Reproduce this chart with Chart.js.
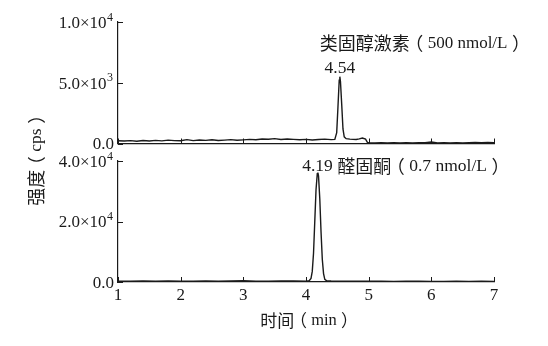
<!DOCTYPE html>
<html>
<head>
<meta charset="utf-8">
<script src="https://cdn.jsdelivr.net/npm/chart.js@4"></script>
<style>
html, body { margin: 0; padding: 0; background: #fff; }
#wrap { position: relative; width: 548px; height: 346px; }
#wrap canvas { position: absolute; left: 0; top: 0; }
</style>
</head>
<body>
<div id="wrap">
  <canvas id="chartTop" width="548" height="346"></canvas>
  <canvas id="chartBottom" width="548" height="346"></canvas>
</div>
<script>
const topTime = [1.0, 1.1, 1.2, 1.3, 1.4, 1.5, 1.6, 1.7, 1.8, 1.9, 2.0, 2.1, 2.2, 2.3, 2.4, 2.5, 2.6, 2.7, 2.8, 2.9,
  3.0, 3.1, 3.2, 3.3, 3.4, 3.5, 3.6, 3.7, 3.8, 3.9, 4.0, 4.1, 4.2, 4.3, 4.4,
  4.46, 4.49, 4.51, 4.53, 4.54, 4.55, 4.57, 4.59, 4.61, 4.64,
  4.7, 4.8, 4.85, 4.9, 4.95, 4.98,
  5.0, 5.1, 5.2, 5.3, 5.4, 5.5, 5.6, 5.7, 5.8, 5.9, 6.0, 6.1, 6.2, 6.3, 6.4, 6.5, 6.6, 6.7, 6.8, 6.9, 7.0];
const topIntensity = [230, 200, 240, 180, 250, 210, 260, 220, 280, 240, 230, 320, 240, 290, 260, 310, 250, 280, 320, 270,
  300, 340, 310, 370, 350, 400, 330, 370, 340, 310, 340, 290, 330, 360, 320,
  340, 900, 3000, 5200, 5500, 5100, 3200, 1200, 550, 400,
  360, 330, 380, 450, 360, 90,
  60, 40, 60, 50, 70, 40, 60, 50, 70, 60, 120, 50, 60, 40, 70, 50, 60, 80, 60, 90, 70];

const bottomTime = [1.0, 1.2, 1.4, 1.6, 1.8, 2.0, 2.2, 2.4, 2.6, 2.8, 3.0, 3.2, 3.4, 3.6, 3.8, 4.0,
  4.05, 4.08, 4.10, 4.12, 4.14, 4.16, 4.18, 4.19, 4.20, 4.22, 4.24, 4.26, 4.28, 4.30, 4.33,
  4.4, 4.6, 4.8,
  5.0, 5.2, 5.4, 5.6, 5.8, 6.0, 6.2, 6.4, 6.6, 6.8, 7.0];
const bottomIntensity = [300, 250, 350, 280, 320, 260, 300, 340, 290, 330, 450, 300, 280, 320, 350, 300,
  400, 1200, 3500, 9500, 20000, 30500, 35800, 36200, 35000, 27500, 16500, 7500, 2800, 900, 400,
  320, 280, 300,
  260, 240, 220, 250, 230, 210, 220, 240, 200, 230, 210];

const xTicks = [1, 2, 3, 4, 5, 6, 7];
const topTickValues = [0, 5000, 10000];
const topTickLabels = ['0.0', '5.0×10³', '1.0×10⁴'];
const bottomTickValues = [0, 20000, 40000];
const bottomTickLabels = ['0.0', '2.0×10⁴', '4.0×10⁴'];

const topTitle = '类固醇激素（500 nmol/L）';
const topPeakLabel = '4.54';
const bottomTitle = '4.19 醛固酮（0.7 nmol/L）';
const xTitle = '时间（min）';
const yTitle = '强度（cps）';

const serif = "'Liberation Serif', serif";
const cjk = "'Noto Sans CJK SC', sans-serif";
const negro = '#1a1a1a';
const sup = '⁰¹²³⁴⁵⁶⁷⁸⁹';

function esCJK(ch) {
  return ch.charCodeAt(0) >= 0x2E80;
}

// texto mezclado: chino con Noto, cifras y letras con serif
// los paréntesis de ancho completo se centran en su caja
function textoMixto(ctx, text, x, y, align, latin, han) {
  const piezas = [];
  for (const ch of text) {
    const f = esCJK(ch) ? han + 'px ' + cjk : latin + 'px ' + serif;
    const last = piezas[piezas.length - 1];
    const suelto = ch === '（' || ch === '）';
    if (last && last.f === f && !suelto && !last.suelto) last.t += ch;
    else piezas.push({ f: f, t: ch, suelto: suelto });
  }
  let total = 0;
  piezas.forEach(function(p) { ctx.font = p.f; p.w = ctx.measureText(p.t).width; total += p.w; });
  let cx = x;
  if (align === 'center') cx = x - total / 2;
  if (align === 'right') cx = x - total;
  ctx.textAlign = 'left';
  piezas.forEach(function(p) {
    let dx = 0;
    if (p.t === '（') dx = -0.25 * han;
    if (p.t === '）') dx = 0.25 * han;
    ctx.font = p.f;
    ctx.fillText(p.t, cx + dx, y);
    cx += p.w;
  });
}

// marcas de los ejes hacia dentro, etiquetas con exponente y textos sueltos
const marcasYTextos = {
  id: 'marcasYTextos',
  afterDraw(chart, args, opts) {
    const ctx = chart.ctx;
    const sx = chart.scales.x;
    const sy = chart.scales.y;
    const area = chart.chartArea;
    ctx.save();
    ctx.strokeStyle = negro;
    ctx.lineWidth = 1;
    ctx.beginPath();
    sx.ticks.forEach(function(t) {
      const px = Math.round(sx.getPixelForValue(t.value)) + 0.5;
      ctx.moveTo(px, area.bottom);
      ctx.lineTo(px, area.bottom - 5);
    });
    sy.ticks.forEach(function(t) {
      const py = Math.round(sy.getPixelForValue(t.value)) + 0.5;
      ctx.moveTo(area.left, py);
      ctx.lineTo(area.left + 5, py);
    });
    ctx.stroke();

    ctx.fillStyle = negro;
    // etiquetas del eje y
    const vals = opts.tickValues;
    const labs = opts.tickLabels;
    vals.forEach(function(v, i) {
      const py = sy.getPixelForValue(v);
      let base = labs[i];
      let expo = '';
      while (base.length && sup.indexOf(base[base.length - 1]) >= 0) {
        expo = String(sup.indexOf(base[base.length - 1])) + expo;
        base = base.slice(0, -1);
      }
      let right = area.left - 4;
      ctx.textAlign = 'right';
      if (expo) {
        right = area.left - 5;
        ctx.font = '12px ' + serif;
        ctx.textBaseline = 'alphabetic';
        ctx.fillText(expo, right, py - 1.5);
        right -= ctx.measureText(expo).width + 0.5;
      }
      ctx.font = '17px ' + serif;
      ctx.textBaseline = 'middle';
      ctx.fillText(base, right, py + 1.5);
    });

    ctx.textBaseline = 'middle';
    (opts.items || []).forEach(function(it) {
      let px, py;
      if (it.pixel) {
        px = it.pixel[0];
        py = it.pixel[1];
      } else {
        px = sx.getPixelForValue(it.at[0]);
        py = sy.getPixelForValue(it.at[1]);
      }
      ctx.save();
      ctx.translate(px, py);
      if (it.rotate) ctx.rotate(it.rotate);
      textoMixto(ctx, it.text, 0, 0, it.align || 'center', it.latin, it.han);
      ctx.restore();
    });
    ctx.restore();
  }
};

function puntos(ts, vs) {
  return ts.map(function(t, i) { return { x: t, y: vs[i] }; });
}

function crearPanel(id, ts, vs, yMax, tickValues, tickLabels, showX, pad, items) {
  return new Chart(document.getElementById(id), {
    type: 'line',
    data: {
      datasets: [{
        data: puntos(ts, vs),
        borderColor: negro,
        borderWidth: 1.4,
        pointRadius: 0,
        tension: 0,
        fill: false
      }]
    },
    options: {
      responsive: false,
      animation: false,
      events: [],
      layout: { padding: pad },
      plugins: {
        legend: { display: false },
        tooltip: { enabled: false },
        marcasYTextos: { items: items, tickValues: tickValues, tickLabels: tickLabels }
      },
      scales: {
        x: {
          type: 'linear',
          min: 1,
          max: 7,
          afterBuildTicks: function(scale) { scale.ticks = xTicks.map(function(v) { return { value: v }; }); },
          grid: { display: false, drawTicks: false },
          border: { display: true, color: negro, width: 1.2 },
          ticks: { display: showX, padding: 3, color: negro, font: { family: serif, size: 17 } },
          afterFit: function(scale) { scale.height = showX ? 64 : 0; }
        },
        y: {
          min: 0,
          max: yMax,
          afterBuildTicks: function(scale) { scale.ticks = tickValues.map(function(v) { return { value: v }; }); },
          grid: { display: false, drawTicks: false },
          border: { display: true, color: negro, width: 1.2 },
          ticks: { display: false },
          afterFit: function(scale) { scale.width = 118; }
        }
      }
    },
    plugins: [marcasYTextos]
  });
}

crearPanel('chartTop', topTime, topIntensity, 10000, topTickValues, topTickLabels, false,
  { top: 22, left: 0, right: 54, bottom: 202.5 },
  [
    { text: topTitle, at: [5.86, 8250], latin: 17, han: 18 },
    { text: topPeakLabel, at: [4.54, 6150], latin: 17.5, han: 18 }
  ]);

crearPanel('chartBottom', bottomTime, bottomIntensity, 40000, bottomTickValues, bottomTickLabels, true,
  { top: 161, left: 0, right: 54, bottom: 0 },
  [
    { text: bottomTitle, at: [3.94, 38200], latin: 17.5, han: 18, align: 'left' },
    { text: xTitle, pixel: [307, 321], latin: 16.5, han: 17 },
    { text: yTitle, pixel: [36, 158], latin: 17.5, han: 18, rotate: -Math.PI / 2 }
  ]);
</script>
</body>
</html>
